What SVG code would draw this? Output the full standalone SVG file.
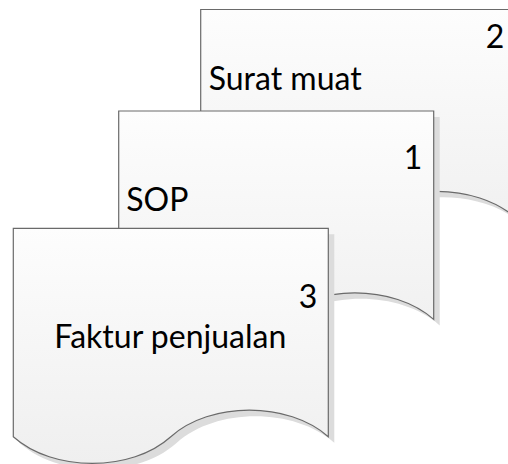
<svg xmlns="http://www.w3.org/2000/svg" xmlns:xlink="http://www.w3.org/1999/xlink" width="508" height="464" viewBox="0 0 508 464">
  <style>
    .doc { fill: url(#g); stroke: #6a6a6a; stroke-width: 1.2; }
    .shadow { fill: #dcdcdc; }
    .t { font-family: Lato, "Liberation Sans", sans-serif; font-size: 32px; fill: #000; }
  </style>
  <defs>
    <linearGradient id="g" x1="0" y1="0" x2="0" y2="1">
      <stop offset="0" stop-color="#fdfdfd"/>
      <stop offset="1" stop-color="#efefef"/>
    </linearGradient>
    <path id="docshape" d="M0,0 H315 V208.4 C275,173 197,173 157.5,208.4 C118,244 40,244 0,208.4 Z"/>
  </defs>
  <rect width="508" height="464" fill="#ffffff"/>
  <g id="doc-surat-muat" transform="translate(200.7,9.5)">
    <use xlink:href="#docshape" class="shadow" x="6" y="6"/>
    <use xlink:href="#docshape" class="doc"/>
    <text class="t" x="8" y="80.5">Surat muat</text>
    <text class="t" x="303.5" y="38.8" text-anchor="end">2</text>
  </g>
  <g id="doc-sop" transform="translate(118.7,111)">
    <use xlink:href="#docshape" class="shadow" x="6" y="6"/>
    <use xlink:href="#docshape" class="doc"/>
    <text class="t" x="7.5" y="100.3">SOP</text>
    <text class="t" x="303.5" y="58.3" text-anchor="end">1</text>
  </g>
  <g id="doc-faktur" transform="translate(13.3,228.3)">
    <use xlink:href="#docshape" class="shadow" x="6" y="6"/>
    <use xlink:href="#docshape" class="doc"/>
    <text class="t" x="157" y="120" text-anchor="middle">Faktur penjualan</text>
    <text class="t" x="304" y="80" text-anchor="end">3</text>
  </g>
  <g id="connectors"/>
</svg>
